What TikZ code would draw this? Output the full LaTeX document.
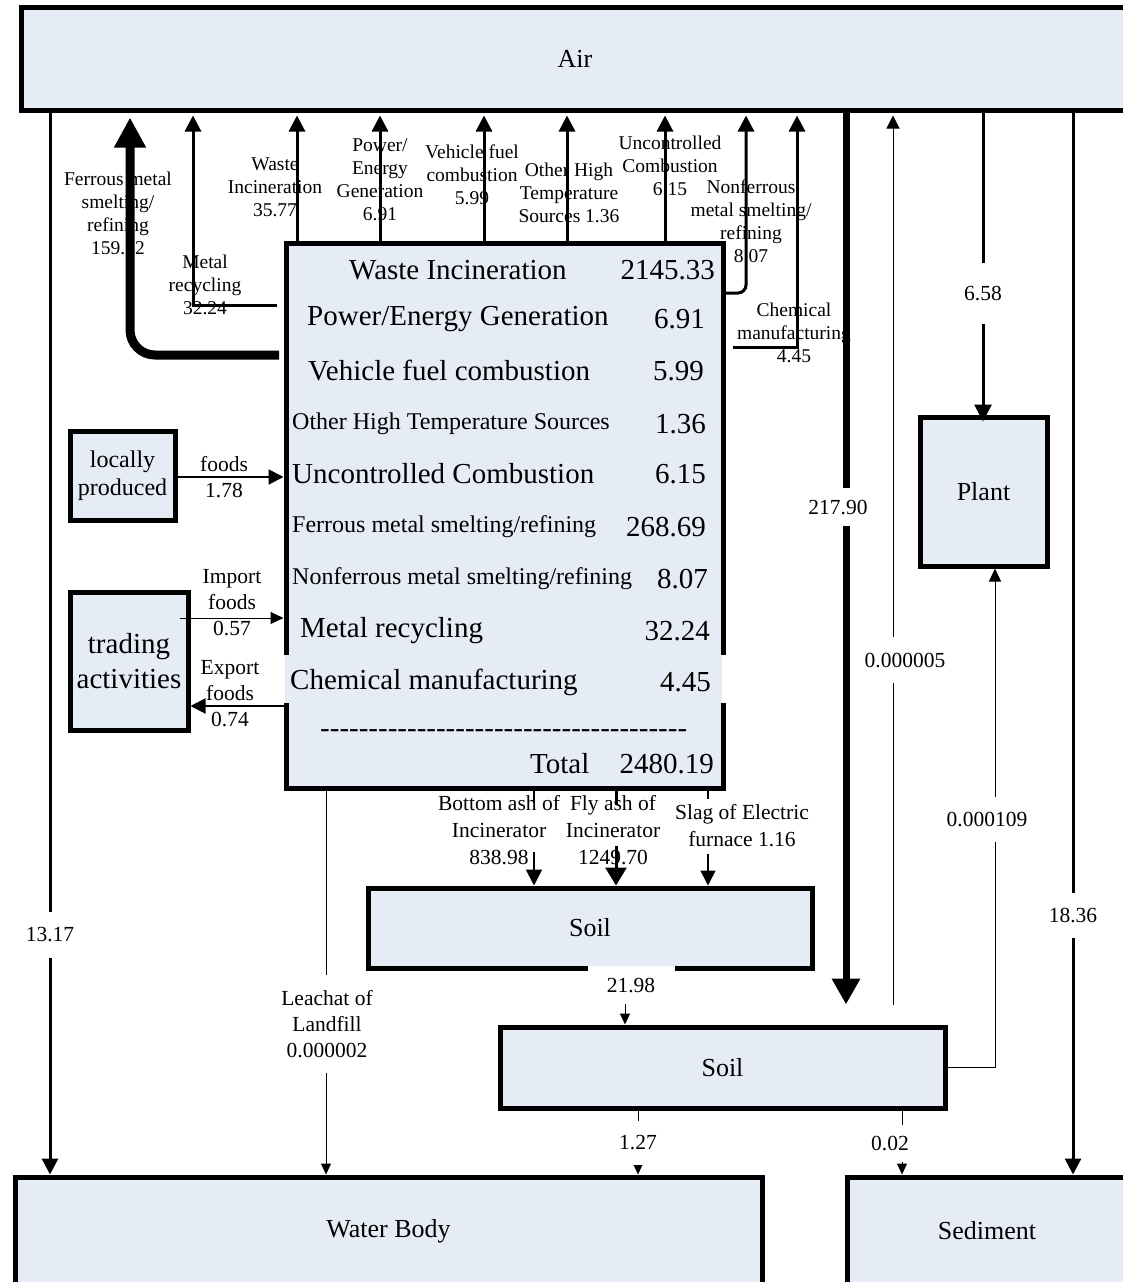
\documentclass[tikz,border=0pt]{standalone}
\usepackage{fontspec}
\setmainfont{Liberation Serif}
\usetikzlibrary{arrows.meta,calc}
\definecolor{boxfill}{RGB}{230,236,246}
\newcommand\FBig{\fontsize{29}{31}\selectfont}
\newcommand\FMid{\fontsize{24}{28}\selectfont}
\newcommand\FBox{\fontsize{26}{30}\selectfont}
\newcommand\FTop{\fontsize{19.5}{23}\selectfont}
\newcommand\FLab{\fontsize{21.5}{26}\selectfont}
\newcommand\FAsh{\fontsize{21.5}{27}\selectfont}
\newcommand\FLoc{\fontsize{24}{28}\selectfont}
\newcommand\FTrd{\fontsize{29}{35}\selectfont}
\newcommand\hy{\hbox{-}}
\tikzset{
  box/.style={draw, line width=5pt, fill=boxfill, inner sep=0pt, align=center},
  arw/.style={line width=3pt, -{Triangle[length=16pt,width=16pt]}},
  thinarw/.style={line width=1pt, -{Triangle[length=11pt,width=10pt]}},
  toplbl/.style={align=center, font=\FTop, inner sep=0pt},
  lbl/.style={align=center, font=\FLab, inner sep=0pt},
  wlbl/.style={fill=white, align=center, font=\FLab, inner xsep=3pt, inner ysep=0pt},
  rowl/.style={anchor=west, inner sep=0pt, font=\FBig},
  rown/.style={anchor=east, inner sep=0pt, font=\FBig}
}
\begin{document}
\begin{tikzpicture}[x=1pt,y=-1pt]
\useasboundingbox (0,0) rectangle (1122,1282);

% ---------- boxes ----------
\node[box, minimum width=1108pt, minimum height=102.5pt, font=\FBox] (air) at (575,58.75) {Air};
\node[box, minimum width=437pt, minimum height=545pt] (src) at (504.5,515.5) {};
\fill[white] (281,655) rectangle (726,703);
\fill[boxfill] (285,655) rectangle (722,703);
\node[box, minimum width=127pt, minimum height=149pt, font=\FBox] (plant) at (983.5,491.5) {Plant};
\node[box, minimum width=444pt, minimum height=80pt, font=\FBox] (soilA) at (590,928) {Soil};
\node[box, minimum width=445pt, minimum height=81pt, font=\FBox] (soilB) at (722.5,1067.5) {Soil};
\node[box, minimum width=747pt, minimum height=108pt, font=\FBox] (water) at (388.5,1231) {Water Body};
\node[box, minimum width=280pt, minimum height=108pt, font=\FBox] (sed) at (987,1231) {Sediment};
\node[box, minimum width=105pt, minimum height=89pt, font=\FLoc] (local) at (122.5,475.5) {locally\\produced};
\node[box, minimum width=118pt, minimum height=138pt, font=\FTrd] (trade) at (129,661) {trading\\activities};

% ---------- rows of the source box ----------
\node[rowl] (r1l) at (349,270) {Waste Incineration};
\node[rown] (r1n) at (715,270) {2145.33};
\node[rowl] (r2l) at (307,319) {Power/Energy Generation};
\node[rown] (r2n) at (705,319) {6.91};
\node[rowl] (r3l) at (308,371) {Vehicle fuel combustion};
\node[rown] (r3n) at (704,371) {5.99};
\node[rowl, font=\FMid] (r4l) at (292,424) {Other High Temperature Sources};
\node[rown] (r4n) at (706,424) {1.36};
\node[rowl] (r5l) at (292,474) {Uncontrolled Combustion};
\node[rown] (r5n) at (706,474) {6.15};
\node[rowl, font=\FMid] (r6l) at (292,527) {Ferrous metal smelting/refining};
\node[rown] (r6n) at (706,527) {268.69};
\node[rowl, font=\FMid] (r7l) at (292,579) {Nonferrous metal smelting/refining};
\node[rown] (r7n) at (708,579) {8.07};
\node[rowl] (r8l) at (300,631) {Metal recycling};
\node[rown] (r8n) at (710,631) {32.24};
\node[rowl] (r9l) at (290,682) {Chemical manufacturing};
\node[rown] (r9n) at (711,682) {4.45};
\node[rowl] (r10) at (320,734) {\hy\hy\hy\hy\hy\hy\hy\hy\hy\hy\hy\hy\hy\hy\hy\hy\hy\hy\hy\hy\hy\hy\hy\hy\hy\hy\hy\hy\hy\hy\hy\hy\hy\hy\hy\hy\hy\hy};
\node[rowl] (r11l) at (530,764) {Total};
\node[rown] (r11n) at (714,764) {2480.19};

% ---------- x positions ----------
\coordinate (xA) at (50,0);
\coordinate (xFM) at (130,0);
\coordinate (xMR) at (193,0);
\coordinate (xWI) at (297,0);
\coordinate (xPE) at (380,0);
\coordinate (xVF) at (484,0);
\coordinate (xOH) at (567,0);
\coordinate (xUC) at (665,0);
\coordinate (xNF) at (746,0);
\coordinate (xCM) at (797,0);
\coordinate (xT) at (846,0);
\coordinate (xS5) at (893,0);
\coordinate (xPl) at (983,0);
\coordinate (xPB) at (995,0);
\coordinate (xSed) at (1073,0);
\coordinate (xLe) at (326,0);
\coordinate (xBA) at (534,0);
\coordinate (xFA) at (616,0);
\coordinate (xSL) at (708,0);
\coordinate (xSS) at (625,0);
\coordinate (xWB) at (638,0);
\coordinate (xSD) at (902,0);
\coordinate (yNF) at (0,293);
\coordinate (yFo) at (0,477);
\coordinate (yEx) at (0,706);
\coordinate (fmstart) at (279,355);
\coordinate (mrstart) at (277,305);
\coordinate (chemstart) at (733,347);
\coordinate (impstart) at (180,618);

% ---------- labels under the connectors ----------
\node[toplbl] (lFM) at (118,213) {Ferrous metal\\smelting/\\refining\\159.52};
\node[toplbl] (lMR) at (205,285) {Metal\\recycling\\32.24};
\node[toplbl] (lWI) at (275,187) {Waste\\Incineration\\35.77};
\node[toplbl] (lPE) at (380,180) {Power/\\Energy\\Generation\\6.91};
\node[toplbl] (lVF) at (472,175) {Vehicle fuel\\combustion\\5.99};
\node[toplbl] (lOH) at (569,193) {Other High\\Temperature\\Sources 1.36};
\node[toplbl] (lUC) at (670,166) {Uncontrolled\\Combustion\\6.15};
\node[toplbl] (lNF) at (751,221) {Nonferrous\\metal smelting/\\refining\\8.07};
\node[toplbl] (lCM) at (794,333) {Chemical\\manufacturing\\4.45};
\node[lbl] (lFo) at (224,477) {foods\\1.78};
\node[lbl] (lIm) at (232,603) {Import\\foods\\0.57};
\node[lbl] (lEx) at (230,694) {Export\\foods\\0.74};
\node[lbl, font=\FAsh] (lBA) at (499,830) {Bottom ash of\\Incinerator\\838.98};
\node[lbl, font=\FAsh] (lFA) at (613,830) {Fly ash of\\Incinerator\\1249.70};
\node[lbl, font=\FAsh] (lSL) at (742,826) {Slag of Electric\\furnace 1.16};

% ---------- connectors ----------
\draw[line width=9pt, rounded corners=25pt, -{Triangle[length=30pt,width=30pt]}, shorten >=5pt] (fmstart) -| (air.south -| xFM);
\draw[arw, shorten >=3pt] (mrstart) -| (air.south -| xMR);
\draw[arw, shorten >=3pt] (src.north -| xWI) -- (air.south -| xWI);
\draw[arw, shorten >=3pt] (src.north -| xPE) -- (air.south -| xPE);
\draw[arw, shorten >=3pt] (src.north -| xVF) -- (air.south -| xVF);
\draw[arw, shorten >=3pt] (src.north -| xOH) -- (air.south -| xOH);
\draw[arw, shorten >=3pt] (src.north -| xUC) -- (air.south -| xUC);
\draw[arw, shorten >=3pt, rounded corners=8pt] (src.east |- yNF) -| (air.south -| xNF);
\draw[arw, shorten >=3pt] (chemstart) -| (air.south -| xCM);

\draw[arw] (air.south -| xA) -- (water.north -| xA);
\draw[line width=7pt, -{Triangle[length=26pt,width=27pt]}] (air.south -| xT) -- ($(soilB.north -| xT)+(0,-20)$);
\draw[line width=1pt, -{Triangle[length=13pt,width=13pt]}, shorten >=3pt] ($(soilB.north -| xS5)+(0,-20)$) -- (air.south -| xS5);
\draw[line width=3pt, -{Triangle[length=17pt,width=17pt]}] (air.south -| xPl) -- ($(plant.north -| xPl)+(0,7)$);
\draw[arw] (air.south -| xSed) -- (sed.north -| xSed);
\draw[line width=1pt, -{Triangle[length=13pt,width=12pt]}] (soilB.east) -| (plant.south -| xPB);

\draw[line width=2pt, -{Triangle[length=15pt,width=15pt]}] (local.east |- yFo) -- (src.west |- yFo);
\draw[line width=1pt, -{Triangle[length=13pt,width=12pt]}] (impstart) -- (src.west |- impstart);
\draw[line width=2pt, -{Triangle[length=15pt,width=15pt]}] (src.west |- yEx) -- (trade.east |- yEx);

\draw[line width=2pt] (src.south -| xBA) -- ($(src.south -| xBA)+(0,12)$);
\draw[line width=2pt, -{Triangle[length=16pt,width=16pt]}] ($(soilA.north -| xBA)+(0,-34)$) -- (soilA.north -| xBA);
\draw[line width=3pt] (src.south -| xFA) -- ($(src.south -| xFA)+(0,14)$);
\draw[line width=3pt, -{Triangle[length=18pt,width=21pt]}] ($(soilA.north -| xFA)+(0,-40)$) -- (soilA.north -| xFA);
\draw[line width=1.5pt] (src.south -| xSL) -- ($(src.south -| xSL)+(0,8)$);
\draw[line width=1.5pt, -{Triangle[length=15pt,width=15pt]}] ($(soilA.north -| xSL)+(0,-32)$) -- (soilA.north -| xSL);

\draw[thinarw] (src.south -| xLe) -- (water.north -| xLe);
\draw[thinarw] (soilA.south -| xSS) -- (soilB.north -| xSS);
\draw[thinarw] (soilB.south -| xWB) -- (water.north -| xWB);
\draw[thinarw] (soilB.south -| xSD) -- (sed.north -| xSD);

% ---------- labels that break the connectors ----------
\node[wlbl, minimum height=46pt] (l1317) at (50,935) {13.17};
\node[wlbl, minimum height=61pt] (l658) at (983,293) {6.58};
\node[wlbl, minimum height=38pt] (l21790) at (838,507) {217.90};
\node[wlbl, minimum height=46pt] (l5) at (905,660) {0.000005};
\node[wlbl, minimum height=45pt] (l109) at (987,819) {0.000109};
\node[wlbl, minimum height=45pt] (l1836) at (1073,915) {18.36};
\node[wlbl, minimum height=98pt] (lLe) at (327,1024) {Leachat of\\Landfill\\0.000002};
\node[wlbl, minimum width=87pt, minimum height=38pt] (l2198) at (631,985) {21.98};
\node[wlbl, minimum height=44pt] (l127) at (638,1143) {1.27};
\node[wlbl, minimum height=37pt] (l002) at (890,1143) {0.02};
\end{tikzpicture}
\end{document}
